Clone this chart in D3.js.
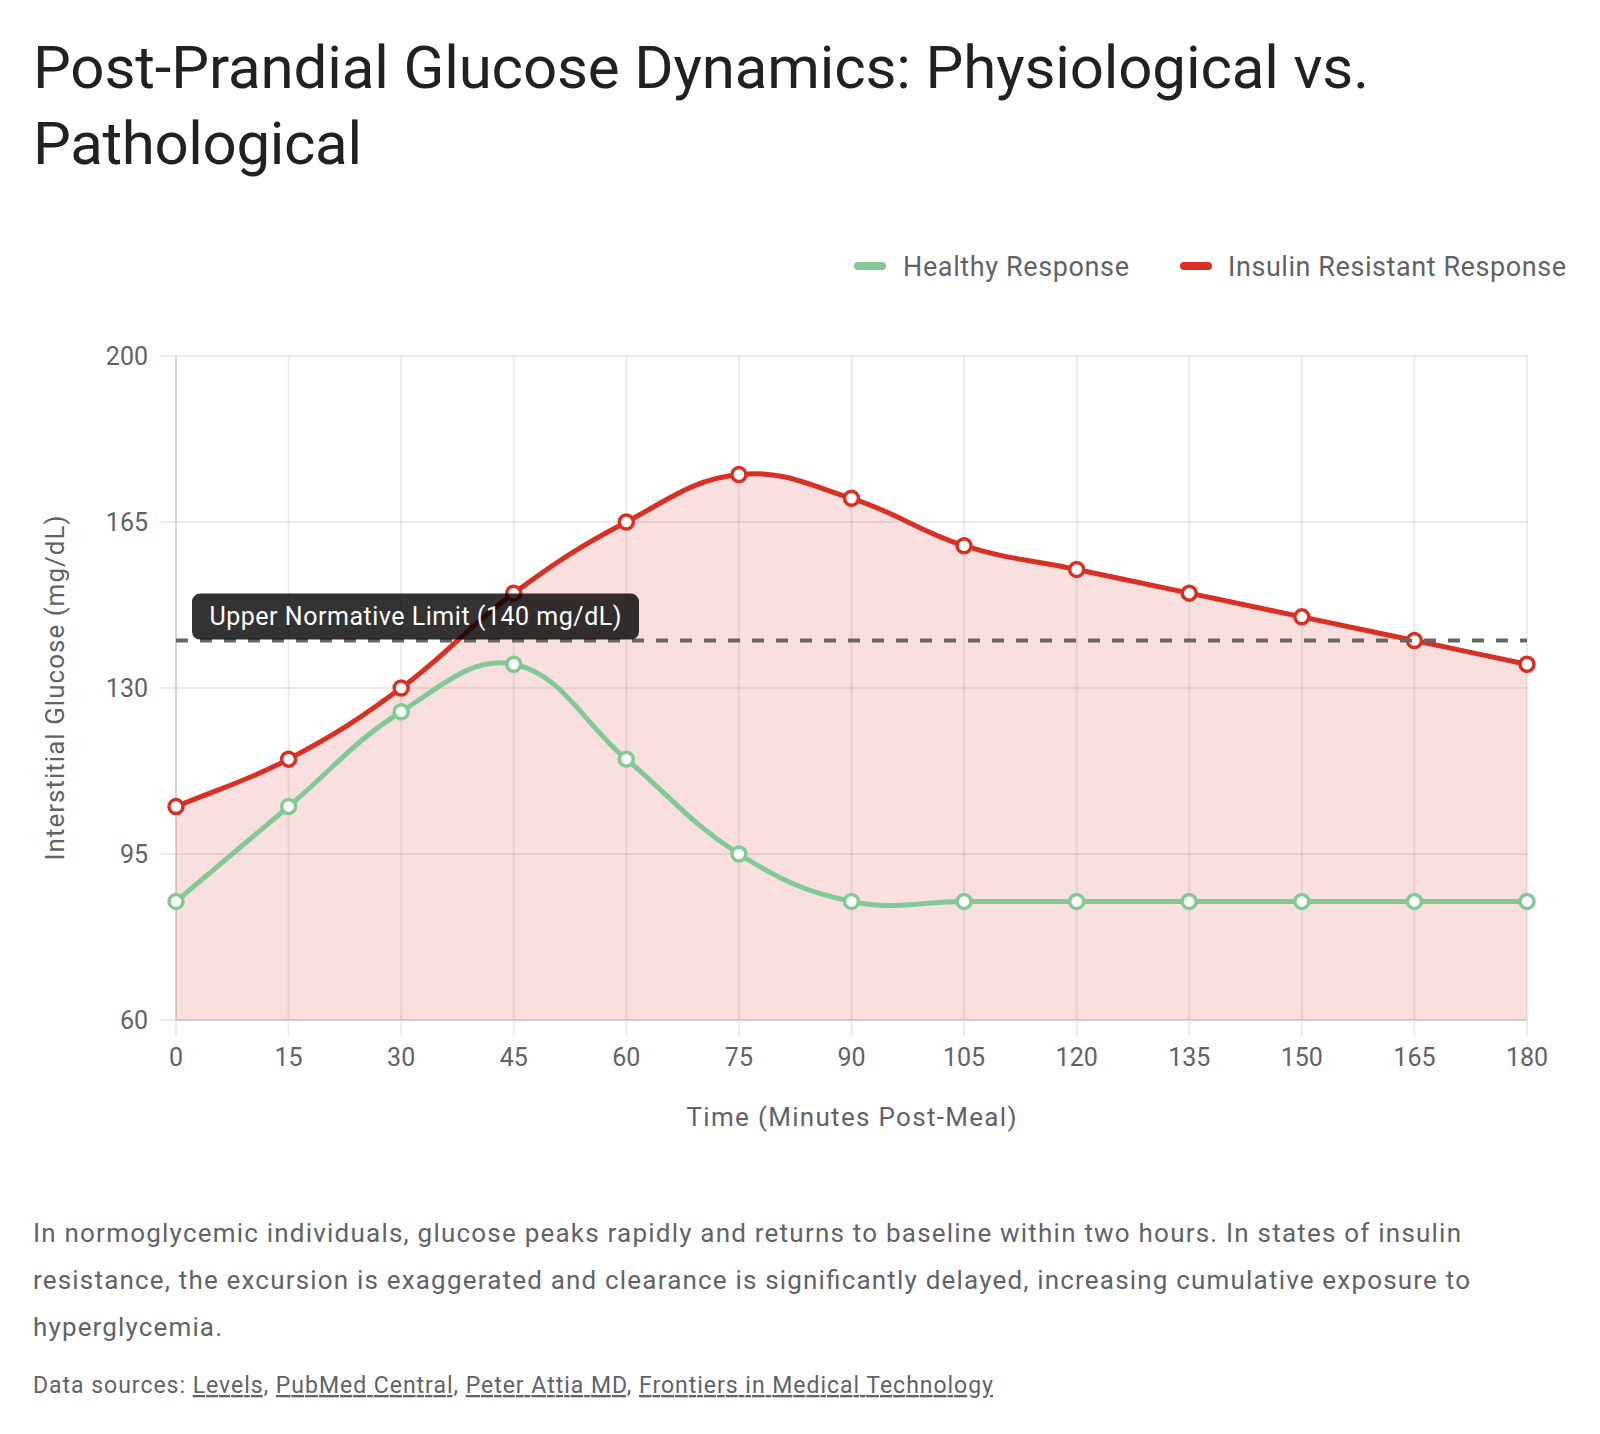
<!DOCTYPE html>
<html>
<head>
<meta charset="utf-8">
<title>Post-Prandial Glucose Dynamics</title>
<script src="https://d3js.org/d3.v7.min.js"></script>
<style>
  body { margin: 0; background: #fff; }
  svg { display: block; font-family: Roboto, "Noto Sans", sans-serif; }
  .title { font-size: 60px; fill: #202124; }
  .legend-label { font-size: 27px; fill: #5f6368; }
  .tick-label { font-size: 25px; fill: #5f6368; }
  .axis-title { font-size: 26px; fill: #5f6368; }
  .note { font-size: 26px; fill: #5f6368; }
  .sources { font-size: 23px; fill: #5f6368; }
  .sources .link { text-decoration: underline; }
  .limit-label { font-size: 25px; fill: #fff; }
</style>
</head>
<body>
<svg id="chart" width="1600" height="1434"></svg>
<script>
// --- data ---
var minutes = [0, 15, 30, 45, 60, 75, 90, 105, 120, 135, 150, 165, 180];
var healthy = [85, 105, 125, 135, 115, 95, 85, 85, 85, 85, 85, 85, 85];
var resistant = [105, 115, 130, 150, 165, 175, 170, 160, 155, 150, 145, 140, 135];
var yTicks = [60, 95, 130, 165, 200];
var seriesNames = ["Healthy Response", "Insulin Resistant Response"];
var seriesColors = ["#81c995", "#d93025"];
var limitValue = 140;
var limitLabel = "Upper Normative Limit (140 mg/dL)";

var titleLines = ["Post-Prandial Glucose Dynamics: Physiological vs.", "Pathological"];
var noteLines = [
  "In normoglycemic individuals, glucose peaks rapidly and returns to baseline within two hours. In states of insulin",
  "resistance, the excursion is exaggerated and clearance is significantly delayed, increasing cumulative exposure to",
  "hyperglycemia."
];
var sourceLinks = ["Levels", "PubMed Central", "Peter Attia MD", "Frontiers in Medical Technology"];

var svg = d3.select("#chart");

var plot = { left: 176, right: 1527, top: 356, bottom: 1020 };

var x = d3.scalePoint().domain(minutes).range([plot.left, plot.right]);
var y = d3.scaleLinear().domain([60, 200]).range([plot.bottom, plot.top]);

// Chart.js style spline (tension 0.4) as a d3 curve
function ChartSpline(context) { this._context = context; }
ChartSpline.prototype = {
  areaStart: function() { this._line = 0; },
  areaEnd: function() { this._line = NaN; },
  lineStart: function() { this._pts = []; },
  point: function(px, py) { this._pts.push([+px, +py]); },
  lineEnd: function() {
    var p = this._pts, n = p.length, c = this._context, t = 0.4;
    if (n) {
      if (this._line) c.lineTo(p[0][0], p[0][1]); else c.moveTo(p[0][0], p[0][1]);
      var cps = p.map(function(cur, i) {
        var prev = p[i - 1] || cur, next = p[i + 1] || cur;
        var d01 = Math.hypot(cur[0] - prev[0], cur[1] - prev[1]);
        var d12 = Math.hypot(next[0] - cur[0], next[1] - cur[1]);
        var s01 = d01 / (d01 + d12) || 0, s12 = d12 / (d01 + d12) || 0;
        var fa = t * s01, fb = t * s12;
        function cap(v, lo, hi) { return Math.max(lo, Math.min(hi, v)); }
        return {
          prev: [cap(cur[0] - fa * (next[0] - prev[0]), plot.left, plot.right), cap(cur[1] - fa * (next[1] - prev[1]), plot.top, plot.bottom)],
          next: [cap(cur[0] + fb * (next[0] - prev[0]), plot.left, plot.right), cap(cur[1] + fb * (next[1] - prev[1]), plot.top, plot.bottom)]
        };
      });
      for (var i = 1; i < n; i++) {
        c.bezierCurveTo(cps[i - 1].next[0], cps[i - 1].next[1], cps[i].prev[0], cps[i].prev[1], p[i][0], p[i][1]);
      }
    }
    if (this._line || (this._line !== 0 && n === 1)) c.closePath();
    this._line = 1 - this._line;
  }
};
function chartSpline(context) { return new ChartSpline(context); }

// title
svg.selectAll(".title").data(titleLines).enter().append("text")
  .attr("class", "title")
  .attr("x", 33)
  .attr("y", function(d, i) { return 88 + i * 76; })
  .attr("textLength", function(d, i) { return i === 0 ? 1336 : 329; })
  .attr("lengthAdjust", "spacing")
  .text(function(d) { return d; });

// legend
var legendPos = [{ sx: 854, tx: 903, w: 226 }, { sx: 1180, tx: 1228, w: 338 }];
seriesNames.forEach(function(name, i) {
  svg.append("rect")
    .attr("x", legendPos[i].sx).attr("y", 262)
    .attr("width", 32).attr("height", 8).attr("rx", 4)
    .attr("fill", seriesColors[i]);
  svg.append("text")
    .attr("class", "legend-label")
    .attr("x", legendPos[i].tx).attr("y", 276)
    .attr("textLength", legendPos[i].w).attr("lengthAdjust", "spacing")
    .text(name);
});

// grid
var grid = svg.append("g").attr("stroke", "rgba(0,0,0,0.08)").attr("stroke-width", 2);
grid.selectAll(".hgrid").data(yTicks).enter().append("line")
  .attr("x1", plot.left - 15).attr("x2", plot.right)
  .attr("y1", function(d) { return y(d); }).attr("y2", function(d) { return y(d); });
grid.selectAll(".vgrid").data(minutes).enter().append("line")
  .attr("x1", function(d) { return x(d); }).attr("x2", function(d) { return x(d); })
  .attr("y1", plot.top).attr("y2", plot.bottom + 16);

svg.append("line")
  .attr("x1", plot.left).attr("x2", plot.left)
  .attr("y1", plot.top).attr("y2", plot.bottom)
  .attr("stroke", "#d5d5d5").attr("stroke-width", 2);
svg.append("line")
  .attr("x1", plot.left).attr("x2", plot.right)
  .attr("y1", plot.bottom).attr("y2", plot.bottom)
  .attr("stroke", "#d5d5d5").attr("stroke-width", 2);

// tick labels
svg.selectAll(".ytick").data(yTicks).enter().append("text")
  .attr("class", "tick-label")
  .attr("x", 148).attr("y", function(d) { return y(d) + 9; })
  .attr("text-anchor", "end")
  .text(function(d) { return d; });
svg.selectAll(".xtick").data(minutes).enter().append("text")
  .attr("class", "tick-label")
  .attr("x", function(d) { return x(d); }).attr("y", 1066)
  .attr("text-anchor", "middle")
  .text(function(d) { return d; });

// axis titles
svg.append("text")
  .attr("class", "axis-title")
  .attr("transform", "translate(64," + ((plot.top + plot.bottom) / 2) + ") rotate(-90)")
  .attr("text-anchor", "middle")
  .attr("textLength", 345).attr("lengthAdjust", "spacing")
  .text("Interstitial Glucose (mg/dL)");
svg.append("text")
  .attr("class", "axis-title")
  .attr("x", (plot.left + plot.right) / 2).attr("y", 1126)
  .attr("text-anchor", "middle")
  .attr("textLength", 330).attr("lengthAdjust", "spacing")
  .text("Time (Minutes Post-Meal)");

// series
var area = d3.area()
  .x(function(d, i) { return x(minutes[i]); })
  .y0(plot.bottom)
  .y1(function(d) { return y(d); })
  .curve(chartSpline);
var line = d3.line()
  .x(function(d, i) { return x(minutes[i]); })
  .y(function(d) { return y(d); })
  .curve(chartSpline);

svg.append("path")
  .attr("d", area(resistant))
  .attr("fill", "rgba(217,48,37,0.15)");

[resistant, healthy].forEach(function(values) {
  var color = values === healthy ? seriesColors[0] : seriesColors[1];
  svg.append("path")
    .attr("d", line(values))
    .attr("fill", "none")
    .attr("stroke", color)
    .attr("stroke-width", 5);
  svg.append("g").selectAll("circle").data(values).enter().append("circle")
    .attr("cx", function(d, i) { return x(minutes[i]); })
    .attr("cy", function(d) { return y(d); })
    .attr("r", 7)
    .attr("fill", "#fff")
    .attr("stroke", color)
    .attr("stroke-width", 3.5);
});

// normative limit annotation
svg.append("line")
  .attr("x1", plot.left).attr("x2", plot.right)
  .attr("y1", y(limitValue)).attr("y2", y(limitValue))
  .attr("stroke", "#666").attr("stroke-width", 4)
  .attr("stroke-dasharray", "12,12");
svg.append("rect")
  .attr("x", plot.left + 16).attr("y", y(limitValue) - 47)
  .attr("width", 447).attr("height", 46).attr("rx", 8)
  .attr("fill", "rgba(0,0,0,0.8)");
svg.append("text")
  .attr("class", "limit-label")
  .attr("x", plot.left + 16 + 447 / 2).attr("y", y(limitValue) - 16)
  .attr("text-anchor", "middle")
  .attr("textLength", 412).attr("lengthAdjust", "spacing")
  .text(limitLabel);

// note text
svg.selectAll(".note").data(noteLines).enter().append("text")
  .attr("class", "note")
  .attr("x", 33)
  .attr("y", function(d, i) { return 1242 + i * 47; })
  .attr("textLength", function(d, i) { return [1428, 1437, 189][i]; })
  .attr("lengthAdjust", "spacing")
  .text(function(d) { return d; });

// sources
var src = svg.append("text")
  .attr("class", "sources")
  .attr("x", 33).attr("y", 1393)
  .attr("textLength", 960).attr("lengthAdjust", "spacing");
src.append("tspan").text("Data sources: ");
sourceLinks.forEach(function(s, i) {
  src.append("tspan").attr("class", "link").text(s);
  if (i < sourceLinks.length - 1) src.append("tspan").text(", ");
});
</script>
</body>
</html>
